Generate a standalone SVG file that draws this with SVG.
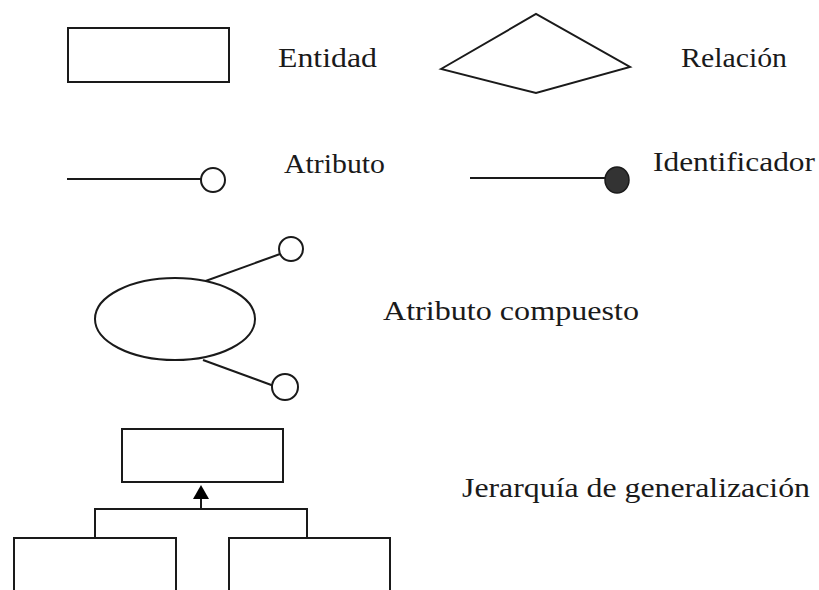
<svg xmlns="http://www.w3.org/2000/svg" width="819" height="590" viewBox="0 0 819 590">
<style>
.s{fill:none;stroke:#1a1a1a;stroke-width:2}
.w{fill:#fff;stroke:#1a1a1a;stroke-width:2}
text{font-family:'Liberation Serif','DejaVu Serif','Times New Roman',serif;font-size:27px;fill:#1a1a1a}
</style>
<rect width="819" height="590" fill="#fff"/>
<g id="entidad"><rect class="w" x="68" y="28" width="161" height="54"/></g>
<text x="278" y="67" textLength="99" lengthAdjust="spacingAndGlyphs">Entidad</text>
<g id="relacion"><polygon class="w" points="441,69 536,14 630,67 536,93"/></g>
<text x="681" y="67" textLength="106" lengthAdjust="spacingAndGlyphs">Relación</text>
<g id="atributo"><line class="s" x1="67" y1="179" x2="201" y2="179"/><circle class="w" cx="213" cy="180" r="12"/></g>
<text x="284" y="173" textLength="101" lengthAdjust="spacingAndGlyphs">Atributo</text>
<g id="identificador"><line class="s" x1="470" y1="178" x2="606" y2="178"/><ellipse cx="617" cy="180" rx="12" ry="13" fill="#333" stroke="#1a1a1a" stroke-width="1.5"/></g>
<text x="653" y="171" textLength="162" lengthAdjust="spacingAndGlyphs">Identificador</text>
<g id="atributo-compuesto">
<line class="s" x1="200" y1="283" x2="280" y2="254"/>
<line class="s" x1="203" y1="360" x2="274" y2="386"/>
<ellipse class="w" cx="175" cy="319" rx="80" ry="41"/>
<circle class="w" cx="291" cy="249" r="12"/>
<circle class="w" cx="285" cy="387" r="13"/>
</g>
<text x="383" y="320" textLength="256" lengthAdjust="spacingAndGlyphs">Atributo compuesto</text>
<g id="superclase"><rect class="w" x="122" y="429" width="161" height="53"/></g>
<g id="subclase1"><rect class="w" x="14" y="538" width="162" height="56"/></g>
<g id="subclase2"><rect class="w" x="229" y="538" width="161" height="56"/></g>
<g id="connectors">
<path class="s" d="M95,538 V509 H307 V538"/>
<path class="s" d="M201,509 V498"/>
<polygon points="201,485 193,499 209,499" fill="#000"/>
</g>
<text x="462" y="497" textLength="348" lengthAdjust="spacingAndGlyphs">Jerarquía de generalización</text>
</svg>
